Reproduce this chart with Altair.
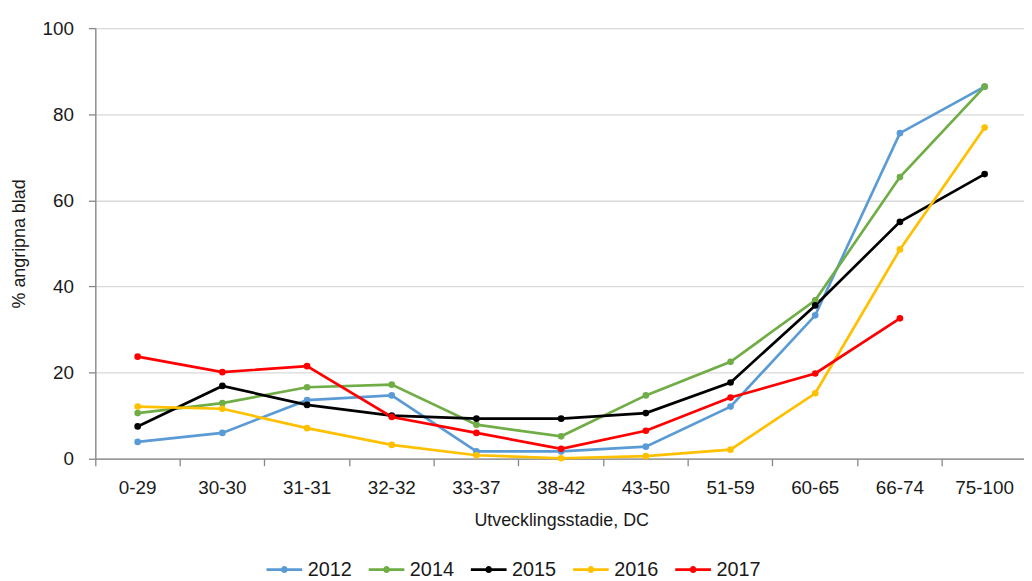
import altair as alt
import pandas as pd

stages = ["0-29", "30-30", "31-31", "32-32", "33-37", "38-42", "43-50",
          "51-59", "60-65", "66-74", "75-100"]
years = ["2012", "2014", "2015", "2016", "2017"]
colors = ["#5B9BD5", "#70AD47", "#000000", "#FFC000", "#FF0000"]

v2012 = [3.9, 6.0, 13.6, 14.7, 1.7, 1.7, 2.8, 12.1, 33.3, 75.6, 86.4]
v2014 = [10.6, 12.9, 16.6, 17.2, 7.9, 5.2, 14.7, 22.5, 36.8, 65.4, 86.4]
v2015 = [7.5, 16.9, 12.5, 10.0, 9.3, 9.3, 10.6, 17.7, 35.6, 55.0, 66.1]
v2016 = [12.1, 11.6, 7.1, 3.2, 0.8, 0.1, 0.6, 2.1, 15.2, 48.6, 76.9]
v2017 = [23.7, 20.1, 21.5, 9.7, 6.0, 2.3, 6.5, 14.2, 19.8, 32.6, None]

series = dict(zip(years, [v2012, v2014, v2015, v2016, v2017]))
rows = []
for y, vals in series.items():
    for s, v in zip(stages, vals):
        if v is not None:
            rows.append({"stage": s, "year": y, "value": v})
df = pd.DataFrame(rows)

FONT = "Liberation Sans"
TXT = "#1a1a1a"
AX = "#868686"

x = alt.X("stage:N", sort=stages,
          scale=alt.Scale(type="band", domain=stages, paddingInner=0, paddingOuter=0,
                          range=[0, 939]),
          axis=alt.Axis(title="Utvecklingsstadie, DC", labelAngle=0, bandPosition=0,
                        labelFontSize=19, titleFontSize=18, labelPadding=13,
                        titlePadding=14, titleFontWeight="normal",
                        tickSize=7, tickWidth=1.3, domainWidth=1.3,
                        domainColor=AX, tickColor=AX,
                        grid=False, labelColor=TXT, titleColor=TXT,
                        labelFont=FONT, titleFont=FONT))
y = alt.Y("value:Q", scale=alt.Scale(domain=[0, 100]),
          axis=alt.Axis(title="% angripna blad", values=[0, 20, 40, 60, 80, 100],
                        labelFontSize=19, titleFontSize=18, labelPadding=15,
                        titlePadding=14, titleFontWeight="normal",
                        tickSize=7, tickWidth=1.3, domainWidth=1.3,
                        domainColor=AX, tickColor=AX,
                        gridColor="#D9D9D9", gridWidth=1.3,
                        labelColor=TXT, titleColor=TXT,
                        labelFont=FONT, titleFont=FONT))

sym = "M-1,0H1M0.12,0A0.12,0.12,0,1,1,-0.12,0A0.12,0.12,0,1,1,0.12,0Z"

lines = alt.Chart(df).mark_line(strokeWidth=2.7).encode(
    x=x, y=y,
    color=alt.Color("year:N", scale=alt.Scale(domain=years, range=colors),
                    legend=alt.Legend(title=None, orient="none", direction="horizontal",
                                      legendX=171, legendY=526,
                                      symbolType=sym, symbolSize=1296,
                                      symbolStrokeWidth=2.7,
                                      labelFontSize=20, labelFont=FONT, labelColor=TXT,
                                      columnPadding=11, labelOffset=4)),
)
points = alt.Chart(df).mark_point(filled=True, opacity=1).encode(
    x=x, y=y,
    color=alt.Color("year:N", scale=alt.Scale(domain=years, range=colors), legend=None),
    size=alt.Size("year:N", scale=alt.Scale(domain=years, range=[45, 45, 45, 45, 110]),
                  legend=None),
)

chart = alt.layer(lines, points).resolve_scale(color="independent").properties(
    width=936, height=434,
    autosize=alt.AutoSizeParams(type="none"),
    padding={"left": 88, "top": 18, "right": 0, "bottom": 123},
).configure_view(stroke=None).configure(background="white")

chart.save("out.html", embed_options={"renderer": "svg", "actions": False})
